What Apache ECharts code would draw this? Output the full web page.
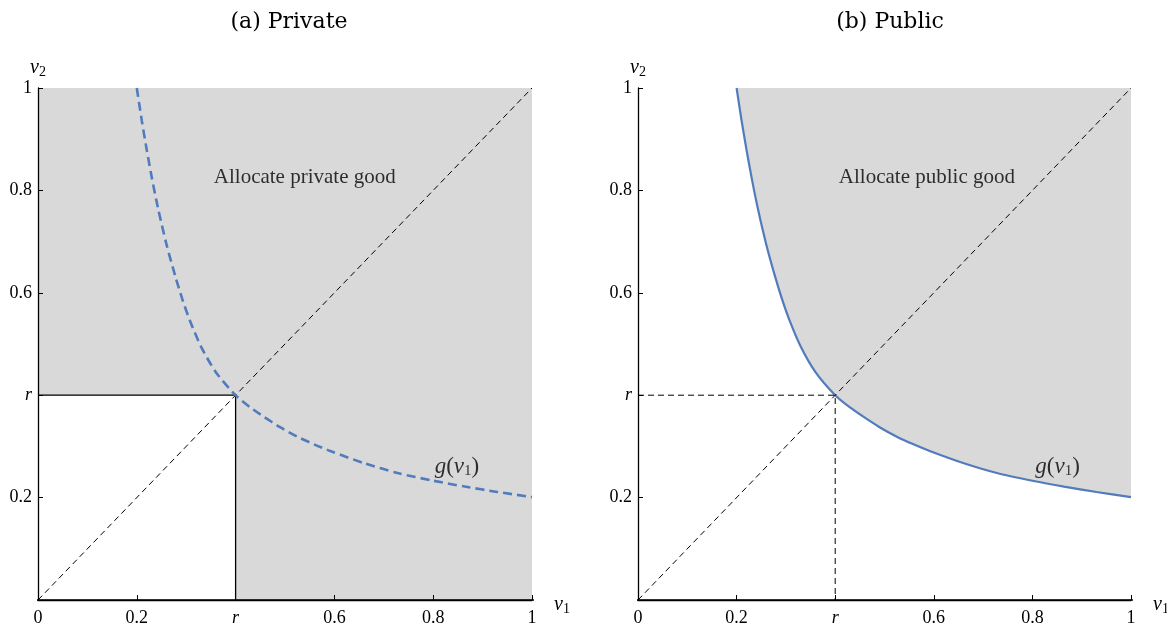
<!DOCTYPE html>
<html><head><meta charset="utf-8">
<script src="https://cdn.jsdelivr.net/npm/echarts@6/dist/echarts.min.js"></script>
<style>html,body{margin:0;padding:0;background:#fff}#c{width:1167px;height:629px}</style>
</head><body><div id="c"></div>
<script>
// ---- data ----
const r = 0.4;
const panelTitles = ['(a) Private', '(b) Public'];
const regionLabels = ['Allocate private good', 'Allocate public good'];
const regionLabelPos = [[0.54, 0.825], [0.586, 0.825]];
const curveLabelPos = [[0.848, 0.26], [0.851, 0.26]];
const tickLabels = ['0', '0.2', 'r', '0.6', '0.8', '1'];
const curveV1 = [0.200, 0.210, 0.220, 0.231, 0.243, 0.260, 0.278, 0.292, 0.307, 0.330, 0.360, 0.400, 0.430, 0.457, 0.490, 0.525, 0.560, 0.593, 0.661, 0.728, 0.800, 0.864, 0.930, 1.000];
const curveV2 = [1.000, 0.937, 0.880, 0.822, 0.765, 0.695, 0.632, 0.588, 0.547, 0.495, 0.445, 0.400, 0.376, 0.358, 0.3375, 0.319, 0.3035, 0.2905, 0.267, 0.248, 0.233, 0.2215, 0.211, 0.201];
const diagonal = [[0, 0], [1, 1]];
const rCorner = [[0, r], [r, r], [r, 0]];
const xAxisExtent = [[-0.02, 0], [1.018, 0]];

// ---- style ----
const FONT = 'Liberation Serif';
const INK = '#000';
const CURVE = '#527bbd';
const GRAY = '#d9d9d9';

const curve = curveV1.map((x, i) => [x, curveV2[i]]);

function tickFmt(v) {
  const t = tickLabels[Math.round(v * 5)];
  return t === 'r' ? '{i|r}' : t;
}
function tickFmtY(v) {
  if (Math.round(v * 5) === 0) return '';
  return tickFmt(v);
}
const labelRich = { i: { fontStyle: 'italic', fontFamily: FONT, fontSize: 18, color: INK } };
const nameRich = {
  v: { fontStyle: 'italic', fontFamily: FONT, fontSize: 20, color: INK },
  s: { fontFamily: FONT, fontSize: 14, color: INK, padding: [9, 0, 0, 0] }
};

function makeX(i) {
  return {
    type: 'value', gridIndex: i, min: 0, max: 1, interval: 0.2, z: 5,
    axisLine: { show: true, onZero: false, lineStyle: { color: INK, width: 1.3 } },
    axisTick: { show: true, inside: true, length: 5, lineStyle: { color: INK, width: 1 } },
    splitLine: { show: false },
    axisLabel: { show: true, margin: 9, color: INK, fontFamily: FONT, fontSize: 18,
      showMinLabel: true, showMaxLabel: true, formatter: tickFmt, rich: labelRich },
    name: '{v|v}{s|1}', nameLocation: 'end', nameGap: 22,
    nameTextStyle: { padding: [10, 0, 0, 0], rich: nameRich }
  };
}
function makeY(i) {
  return {
    type: 'value', gridIndex: i, min: 0, max: 1, interval: 0.2, z: 5,
    axisLine: { show: true, onZero: false, lineStyle: { color: INK, width: 1.3 } },
    axisTick: { show: true, inside: true, length: 5, lineStyle: { color: INK, width: 1 } },
    splitLine: { show: false },
    axisLabel: { show: true, margin: 6, color: INK, fontFamily: FONT, fontSize: 18,
      showMinLabel: true, showMaxLabel: true, formatter: tickFmtY, rich: labelRich },
    name: '{v|v}{s|2}', nameLocation: 'end', nameGap: 6,
    nameTextStyle: { rich: nameRich }
  };
}

function labelSeries(i) {
  return {
    type: 'scatter', xAxisIndex: i, yAxisIndex: i, z: 6, symbolSize: 1,
    itemStyle: { color: 'rgba(0,0,0,0)' }, silent: true,
    data: [
      { value: regionLabelPos[i], label: { show: true, position: 'inside', formatter: regionLabels[i],
          fontFamily: FONT, fontSize: 21, color: INK } },
      { value: curveLabelPos[i], label: { show: true, position: 'inside', formatter: '{g|g}{p|(}{v|v}{s|1}{p|)}',
          rich: {
            g: { fontStyle: 'italic', fontFamily: FONT, fontSize: 23, color: INK },
            p: { fontFamily: FONT, fontSize: 23, color: INK },
            v: { fontStyle: 'italic', fontFamily: FONT, fontSize: 23, color: INK },
            s: { fontFamily: FONT, fontSize: 15, color: INK, padding: [9, 0, 0, 0] }
          } } }
    ]
  };
}
function axisExtSeries(i) {
  return { type: 'line', xAxisIndex: i, yAxisIndex: i, data: xAxisExtent, symbol: 'none', clip: false, z: 5,
    silent: true, lineStyle: { color: INK, width: 1.3 } };
}
function diagSeries(i) {
  return { type: 'line', xAxisIndex: i, yAxisIndex: i, data: diagonal, symbol: 'none', z: 3, silent: true,
    lineStyle: { color: INK, width: 1, type: [6, 4] } };
}

const option = {
  backgroundColor: '#fff',
  animation: false,
  graphic: [
    { type: 'text', x: 289, y: 22, style: { text: panelTitles[0], fontFamily: 'DejaVu Serif', fontSize: 22,
      fill: INK, align: 'center', verticalAlign: 'middle' } },
    { type: 'text', x: 890, y: 22, style: { text: panelTitles[1], fontFamily: 'DejaVu Serif', fontSize: 22,
      fill: INK, align: 'center', verticalAlign: 'middle' } }
  ],
  grid: [
    { left: 38, top: 88, width: 494, height: 512, containLabel: false, outerBoundsMode: 'none' },
    { left: 638, top: 88, width: 493, height: 512, containLabel: false, outerBoundsMode: 'none' }
  ],
  xAxis: [makeX(0), makeX(1)],
  yAxis: [makeY(0), makeY(1)],
  series: [
    // ---- panel (a) ----
    { type: 'line', xAxisIndex: 0, yAxisIndex: 0, data: [[0, 0]], symbol: 'none', z: 1, silent: true,
      lineStyle: { width: 0 },
      markArea: { silent: true, itemStyle: { color: GRAY },
        data: [
          [{ coord: [0, r] }, { coord: [1, 1] }],
          [{ coord: [r, 0] }, { coord: [1, 1] }]
        ] } },
    diagSeries(0),
    { type: 'line', xAxisIndex: 0, yAxisIndex: 0, data: rCorner, symbol: 'none', z: 4, silent: true,
      lineStyle: { color: INK, width: 1.3 } },
    { type: 'line', xAxisIndex: 0, yAxisIndex: 0, data: curve, symbol: 'none', z: 4, silent: true,
      smooth: 0.25, lineStyle: { color: CURVE, width: 2.6, type: [9, 5] } },
    axisExtSeries(0),
    labelSeries(0),
    // ---- panel (b) ----
    { type: 'line', xAxisIndex: 1, yAxisIndex: 1, data: curve, symbol: 'none', z: 2, silent: true,
      smooth: 0.25, lineStyle: { color: CURVE, width: 2.2 },
      areaStyle: { color: GRAY, opacity: 1, origin: 'end' } },
    diagSeries(1),
    { type: 'line', xAxisIndex: 1, yAxisIndex: 1, data: rCorner, symbol: 'none', z: 4, silent: true,
      lineStyle: { color: INK, width: 1, type: [6, 4] } },
    axisExtSeries(1),
    labelSeries(1)
  ]
};

const chart = echarts.init(document.getElementById('c'), null, { renderer: 'canvas' });
chart.setOption(option);
</script>
</body></html>
